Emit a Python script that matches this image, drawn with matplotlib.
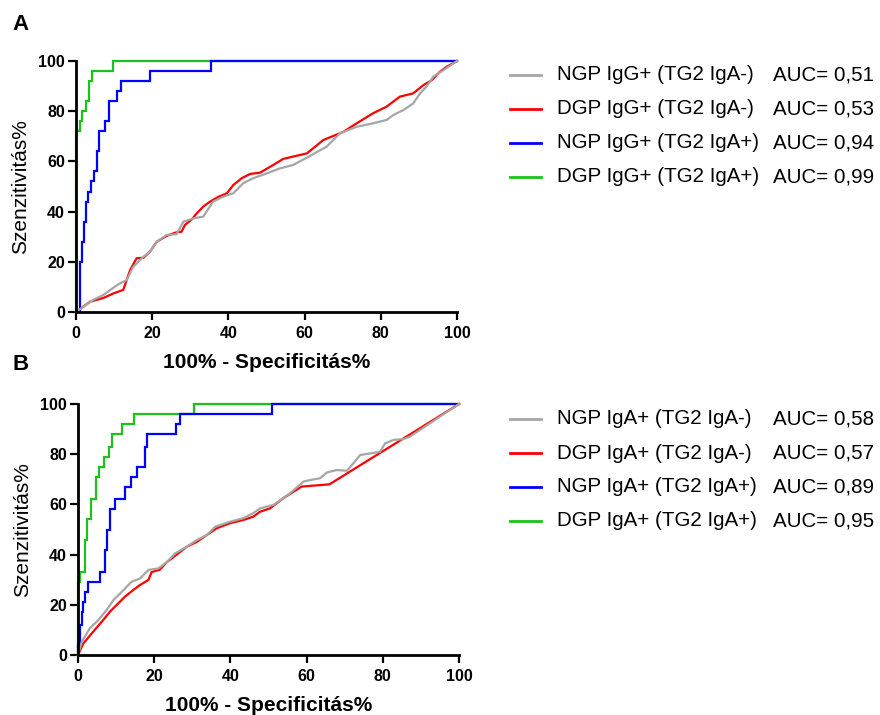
import matplotlib
matplotlib.use("Agg")
import matplotlib.pyplot as plt
from matplotlib.lines import Line2D

plt.rcParams['font.family'] = ['Liberation Sans', 'DejaVu Sans']

# ---------------- Panel A data (100% - specificity, sensitivity) ----------------
a_gray_x = [0, 4.5, 7.2, 10.2, 11.5, 13.3, 15.0, 17.7, 19.4, 21.2, 23.8, 26.4, 28.2, 30.8, 33.4,
            36.0, 38.7, 41.3, 43.9, 46.5, 50.0, 53.5, 57.0, 60.6, 65.8, 69.3, 73.7, 78.0, 81.5,
            83.3, 86.0, 88.5, 90.3, 92.0, 93.8, 96.5, 100]
a_gray_y = [0, 4.8, 6.8, 10.1, 11.4, 12.7, 18.0, 22.0, 24.0, 28.0, 30.7, 31.0, 36.0, 37.3, 38.0,
            44.0, 46.0, 47.3, 51.3, 53.3, 55.2, 57.2, 58.6, 61.5, 65.9, 71.2, 73.8, 75.2, 76.5,
            78.5, 80.5, 83.1, 87.1, 89.8, 93.8, 96.4, 100]

a_red_x = [0, 3.7, 7.2, 9.8, 12.4, 13.3, 14.2, 15.9, 17.7, 19.4, 21.2, 23.8, 26.0, 27.7, 28.6,
           30.4, 31.7, 33.4, 35.2, 37.4, 39.6, 41.3, 43.5, 45.7, 48.3, 51.8, 54.4, 60.6, 64.9,
           70.2, 73.7, 78.0, 81.5, 85.0, 88.5, 91.2, 93.4, 95.5, 97.3, 100]
a_red_y = [0, 4.1, 5.6, 7.4, 8.8, 12.7, 16.7, 21.4, 21.6, 24.0, 28.0, 30.3, 31.6, 32.0, 34.7,
           36.9, 39.3, 42.0, 44.0, 45.9, 47.3, 50.6, 53.3, 55.0, 55.5, 58.6, 61.0, 63.2, 68.5,
           71.8, 75.2, 79.2, 81.8, 85.8, 87.1, 90.4, 92.4, 95.7, 97.7, 100]

a_blue_x = [0, 1.0, 1.0, 1.6, 1.6, 2.1, 2.1, 2.6, 2.6, 3.2, 3.2, 3.9, 3.9, 4.8, 4.8, 5.5, 5.5,
            6.1, 6.1, 7.6, 7.6, 8.7, 8.7, 10.8, 10.8, 11.8, 11.8, 19.4, 19.4, 35.4, 35.4, 100]
a_blue_y = [0, 0, 20, 20, 28, 28, 36, 36, 44, 44, 48, 48, 52, 52, 56, 56, 64,
            64, 72, 72, 76, 76, 84, 84, 88, 88, 92, 92, 96, 96, 100, 100]

a_green_x = [0, 0, 1.0, 1.0, 1.7, 1.7, 2.6, 2.6, 3.5, 3.5, 4.2, 4.2, 9.8, 9.8, 100]
a_green_y = [0, 72, 72, 76, 76, 80, 80, 84, 84, 92, 92, 96, 96, 100, 100]

# ---------------- Panel B data ----------------
b_gray_x = [0, 1.0, 3.1, 5.3, 7.5, 9.3, 11.5, 14.1, 16.3, 18.5, 21.1, 23.3, 25.5, 28.5, 31.2,
            33.8, 36.0, 39.9, 43.4, 46.0, 47.8, 51.3, 53.9, 55.7, 59.2, 60.9, 63.5, 65.3, 67.9,
            70.6, 71.9, 74.1, 76.7, 79.3, 80.6, 82.8, 85.4, 87.1, 100]
b_gray_y = [0, 5.3, 10.6, 13.9, 17.9, 21.9, 25.2, 29.2, 30.5, 33.9, 34.5, 37.0, 40.5, 43.1, 45.8,
            47.8, 51.1, 53.1, 54.5, 56.5, 58.4, 59.8, 62.5, 64.5, 69.1, 69.7, 70.4, 72.7, 73.7,
            73.4, 75.7, 79.7, 80.3, 81.0, 84.3, 85.7, 86.0, 87.0, 100]

b_red_x = [0, 1.4, 4.0, 6.6, 8.4, 10.6, 12.3, 14.5, 16.3, 18.5, 19.3, 21.5, 23.3, 25.9, 28.5,
           31.2, 33.8, 36.4, 39.9, 43.4, 46.0, 47.8, 50.4, 53.9, 58.7, 66.0, 100]
b_red_y = [0, 4.6, 9.3, 13.9, 17.3, 20.6, 23.2, 25.9, 27.9, 29.9, 33.0, 34.0, 37.0, 40.0, 43.1,
           45.1, 47.8, 50.5, 52.5, 53.8, 55.1, 57.1, 58.4, 62.5, 67.1, 68.0, 100]

b_blue_x = [0, 0, 0.5, 0.5, 1.0, 1.0, 1.4, 1.4, 1.8, 1.8, 2.7, 2.7, 5.8, 5.8, 7.1, 7.1, 7.5, 7.5,
            8.4, 8.4, 9.7, 9.7, 12.3, 12.3, 13.8, 13.8, 15.4, 15.4, 17.6, 17.6, 18.2, 18.2,
            25.6, 25.6, 26.9, 26.9, 50.8, 50.8, 100]
b_blue_y = [0, 4, 4, 12, 12, 17, 17, 21, 21, 25, 25, 29, 29, 33, 33, 42, 42, 50,
            50, 58, 58, 62, 62, 67, 67, 71, 71, 75, 75, 83, 83, 88,
            88, 92, 92, 96, 96, 100, 100]

b_green_x = [0, 0, 0.5, 0.5, 1.8, 1.8, 2.3, 2.3, 3.3, 3.3, 4.7, 4.7, 5.6, 5.6, 6.8, 6.8, 8.2, 8.2,
             8.8, 8.8, 11.5, 11.5, 14.7, 14.7, 30.4, 30.4, 100]
b_green_y = [0, 29, 29, 33, 33, 46, 46, 54, 54, 62, 62, 71, 71, 75, 75, 79, 79, 83,
             83, 88, 88, 92, 92, 96, 96, 100, 100]

a_labels = ["NGP IgG+ (TG2 IgA-)", "DGP IgG+ (TG2 IgA-)", "NGP IgG+ (TG2 IgA+)", "DGP IgG+ (TG2 IgA+)"]
a_auc = ["AUC= 0,51", "AUC= 0,53", "AUC= 0,94", "AUC= 0,99"]
b_labels = ["NGP IgA+ (TG2 IgA-)", "DGP IgA+ (TG2 IgA-)", "NGP IgA+ (TG2 IgA+)", "DGP IgA+ (TG2 IgA+)"]
b_auc = ["AUC= 0,58", "AUC= 0,57", "AUC= 0,89", "AUC= 0,95"]

ticks = [0, 20, 40, 60, 80, 100]
colors = ['#a6a6a6', '#ff0000', '#0000ff', '#1cc21c']

W, H = 880, 715
fig = plt.figure(figsize=(W / 100, H / 100), dpi=100)


def px_rect(l, t, r, b):
    return [l / W, 1 - b / H, (r - l) / W, (b - t) / H]


def style_ax(ax):
    ax.set_xlim(0, 100)
    ax.set_ylim(0, 100)
    for s in ['top', 'right']:
        ax.spines[s].set_visible(False)
    for s in ['left', 'bottom']:
        ax.spines[s].set_linewidth(2.0)
    ax.set_xticks(ticks)
    ax.set_yticks(ticks)
    ax.tick_params(direction='out', length=5.5, width=1.6, labelsize=11.5)
    ax.tick_params(axis='x', pad=4.5)
    ax.tick_params(axis='y', pad=2.5)
    for lab in ax.get_xticklabels() + ax.get_yticklabels():
        lab.set_fontweight('bold')
    ax.set_xlabel("100% - Specificitás%", fontsize=15, fontweight='bold', labelpad=9)
    ax.set_ylabel("Szenzitivitás%", fontsize=15, fontweight='normal', labelpad=6)


def draw_panel(rect, series, letter, letter_y, labels, aucs, leg_y):
    ax = fig.add_axes(rect)
    # draw in reverse legend order so gray ends on top
    for (xs, ys), c in reversed(list(zip(series, colors))):
        ax.plot(xs, ys, color=c, lw=1.6, clip_on=False, solid_joinstyle='miter')
    style_ax(ax)
    fig.text(12 / W, 1 - letter_y / H, letter, fontsize=16, fontweight='bold', va='center', ha='left')
    for i, (lab, auc) in enumerate(zip(labels, aucs)):
        y = 1 - (leg_y[i]) / H
        fig.add_artist(Line2D([510 / W, 541 / W], [y, y], color=colors[i], lw=2.0,
                              transform=fig.transFigure))
        fig.text(557 / W, y, lab, fontsize=14.8, va='center', ha='left')
        fig.text(773 / W, y, auc, fontsize=14.8, va='center', ha='left')
    return ax


draw_panel(px_rect(76, 61, 457, 312),
           [(a_gray_x, a_gray_y), (a_red_x, a_red_y), (a_blue_x, a_blue_y), (a_green_x, a_green_y)],
           "A", 25, a_labels, a_auc, [75, 109, 143, 177])
draw_panel(px_rect(78, 404, 459, 655),
           [(b_gray_x, b_gray_y), (b_red_x, b_red_y), (b_blue_x, b_blue_y), (b_green_x, b_green_y)],
           "B", 365, b_labels, b_auc, [419, 453, 487, 521])

fig.savefig("out.png", dpi=100)
